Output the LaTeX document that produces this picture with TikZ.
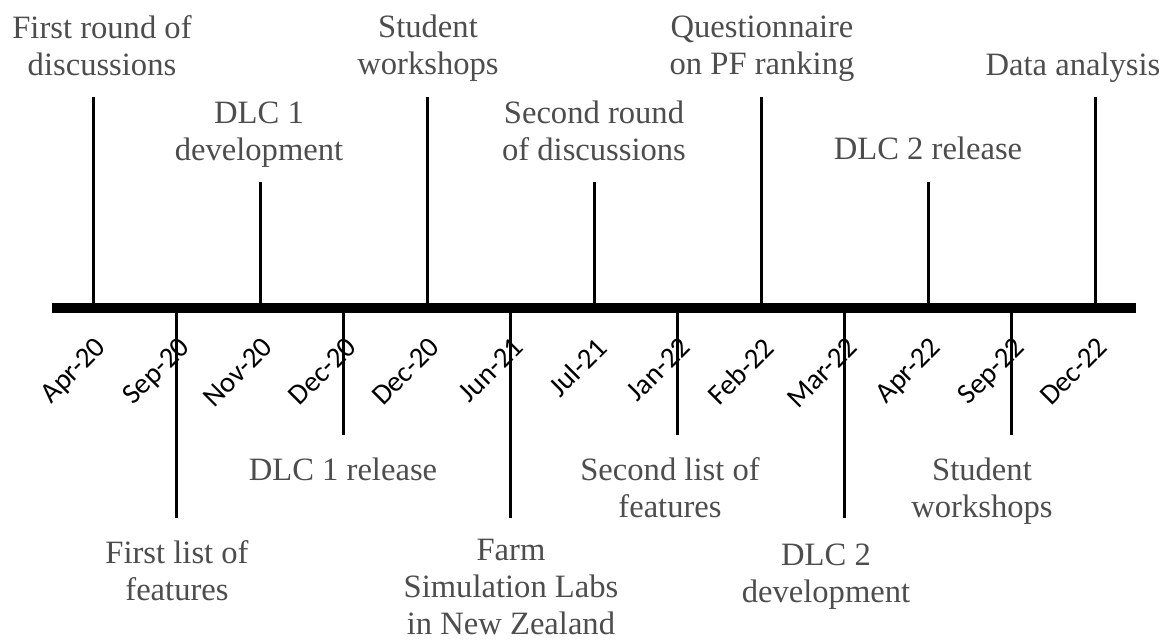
\documentclass[tikz,border=0pt]{standalone}
\usepackage{fontspec}
\setmainfont{Liberation Serif}
\newfontfamily\datefamily{Carlito}
\definecolor{evgray}{RGB}{77,77,77}

\tikzset{ev_style/.style={font=\fontsize{16.3}{18.5}\selectfont, text=evgray, align=center, inner sep=0pt, anchor=base}}
\tikzset{date_style/.style={font=\datefamily\fontsize{14.4}{16}\selectfont, rotate=45, anchor=north east, inner sep=0pt}}
\tikzset{tick_style/.style={line width=1.5pt}}

\begin{document}
\begin{tikzpicture}[x=0.5pt, y=-0.5pt]
    \useasboundingbox (0,0) rectangle (1164,639);

    % main axis
    \coordinate (axL) at (52,308);
    \coordinate (axR) at (1136,308);
    \draw[line width=5pt] (axL) -- (axR);

    % points on the axis
    \coordinate (t1) at (93,308);
    \coordinate (t2) at (176.5,308);
    \coordinate (t3) at (260,308);
    \coordinate (t4) at (343.5,308);
    \coordinate (t5) at (427,308);
    \coordinate (t6) at (510.5,308);
    \coordinate (t7) at (594,308);
    \coordinate (t8) at (677.5,308);
    \coordinate (t9) at (761,308);
    \coordinate (t10) at (844.5,308);
    \coordinate (t11) at (928,308);
    \coordinate (t12) at (1011.5,308);
    \coordinate (t13) at (1095,308);

    % tick ends
    \coordinate (e1) at (93,97);
    \coordinate (e2) at (176.5,518);
    \coordinate (e3) at (260,182);
    \coordinate (e4) at (343.5,435);
    \coordinate (e5) at (427,97);
    \coordinate (e6) at (510.5,518);
    \coordinate (e7) at (594,182);
    \coordinate (e8) at (677.5,435);
    \coordinate (e9) at (761,97);
    \coordinate (e10) at (844.5,518);
    \coordinate (e11) at (928,182);
    \coordinate (e12) at (1011.5,435);
    \coordinate (e13) at (1095,97);

    \draw[tick_style] (t1) -- (e1);
    \draw[tick_style] (t2) -- (e2);
    \draw[tick_style] (t3) -- (e3);
    \draw[tick_style] (t4) -- (e4);
    \draw[tick_style] (t5) -- (e5);
    \draw[tick_style] (t6) -- (e6);
    \draw[tick_style] (t7) -- (e7);
    \draw[tick_style] (t8) -- (e8);
    \draw[tick_style] (t9) -- (e9);
    \draw[tick_style] (t10) -- (e10);
    \draw[tick_style] (t11) -- (e11);
    \draw[tick_style] (t12) -- (e12);
    \draw[tick_style] (t13) -- (e13);

    % dates
    \node[date_style] (d1) at (94,335) {Apr-20};
    \node[date_style] (d2) at (177.5,335) {Sep-20};
    \node[date_style] (d3) at (261,335) {Nov-20};
    \node[date_style] (d4) at (344.5,335) {Dec-20};
    \node[date_style] (d5) at (428,335) {Dec-20};
    \node[date_style] (d6) at (511.5,335) {Jun-21};
    \node[date_style] (d7) at (595,335) {Jul-21};
    \node[date_style] (d8) at (678.5,335) {Jan-22};
    \node[date_style] (d9) at (762,335) {Feb-22};
    \node[date_style] (d10) at (845.5,335) {Mar-22};
    \node[date_style] (d11) at (929,335) {Apr-22};
    \node[date_style] (d12) at (1012.5,335) {Sep-22};
    \node[date_style] (d13) at (1096,335) {Dec-22};

    % events above
    \node[ev_style] (discuss1) at (102,75) {First round of\\discussions};
    \node[ev_style] (dlc1dev) at (259,160) {DLC 1\\development};
    \node[ev_style] (work1) at (428,74) {Student\\workshops};
    \node[ev_style] (discuss2) at (594,160) {Second round\\of discussions};
    \node[ev_style] (quest) at (762,74) {Questionnaire\\on PF ranking};
    \node[ev_style] (dlc2rel) at (928,159) {DLC 2 release};
    \node[ev_style] (analysis) at (1073,75) {Data analysis};

    % events below
    \node[ev_style] (list1) at (177,600) {First list of\\features};
    \node[ev_style] (dlc1rel) at (343,480) {DLC 1 release};
    \node[ev_style] (farm) at (511,634) {Farm\\Simulation Labs\\in New Zealand};
    \node[ev_style] (list2) at (670,517) {Second list of\\features};
    \node[ev_style] (dlc2dev) at (826,602) {DLC 2\\development};
    \node[ev_style] (work2) at (982,517) {Student\\workshops};

\end{tikzpicture}
\end{document}
